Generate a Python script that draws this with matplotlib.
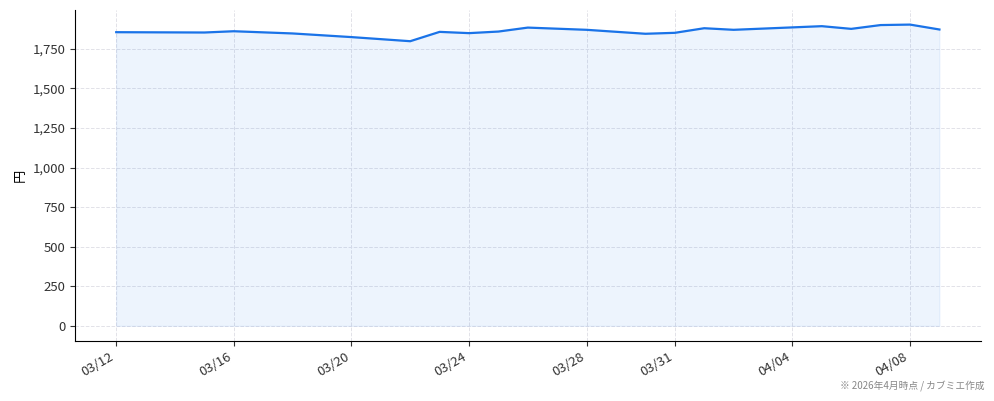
import numpy as np
import pandas as pd
import matplotlib
matplotlib.use("Agg")
import matplotlib.pyplot as plt
import matplotlib.dates as mdates
from matplotlib.ticker import FuncFormatter

plt.rcParams['font.family'] = ['Noto Sans CJK JP', 'DejaVu Sans']

# price data (円)
dates = ["2026-03-12", "2026-03-15", "2026-03-16", "2026-03-18", "2026-03-20",
         "2026-03-22", "2026-03-23", "2026-03-24", "2026-03-25", "2026-03-26",
         "2026-03-28", "2026-03-30", "2026-03-31", "2026-04-01", "2026-04-02",
         "2026-04-05", "2026-04-06", "2026-04-07", "2026-04-08", "2026-04-09"]
prices = [1855, 1853, 1861, 1847, 1824,
          1798, 1857, 1849, 1859, 1884,
          1870, 1845, 1851, 1880, 1870,
          1893, 1876, 1900, 1903, 1872]
tick_dates = ["2026-03-12", "2026-03-16", "2026-03-20", "2026-03-24",
              "2026-03-28", "2026-03-31", "2026-04-04", "2026-04-08"]

x = pd.to_datetime(dates)
ticks = pd.to_datetime(tick_dates)

fig = plt.figure(figsize=(9.94, 4.01), dpi=100)
ax = fig.add_axes([0.0755, 0.15, 0.911, 0.825])

line_color = "#1a73e8"
ax.fill_between(x, prices, 0, color=line_color, alpha=0.08, linewidth=0.8, zorder=1)
ax.plot(x, prices, color=line_color, linewidth=1.6, zorder=3)

ax.set_ylim(-95, 1995)
ax.set_xlim(pd.Timestamp("2026-03-12") - pd.Timedelta(days=1.4),
            pd.Timestamp("2026-03-12") + pd.Timedelta(days=29.4))

ax.set_yticks(np.arange(0, 1751, 250))
ax.yaxis.set_major_formatter(FuncFormatter(lambda v, p: f"{int(v):,}"))
ax.set_xticks(ticks)
ax.xaxis.set_major_formatter(mdates.DateFormatter("%m/%d"))
plt.setp(ax.get_xticklabels(), rotation=30, ha="right")
ax.tick_params(labelsize=9.5, colors="#333333")

ax.grid(True, linestyle="--", color="#e2e2e8", linewidth=0.7, zorder=0)
ax.set_axisbelow(True)
for s in ["top", "right"]:
    ax.spines[s].set_visible(False)

ax.set_ylabel("円", fontsize=9.5)

fig.text(0.991, 0.025, "※ 2026年4月時点 / カブミエ作成", ha="right", va="bottom",
         fontsize=7, color="#888888")

fig.savefig("out.png", dpi=100)
